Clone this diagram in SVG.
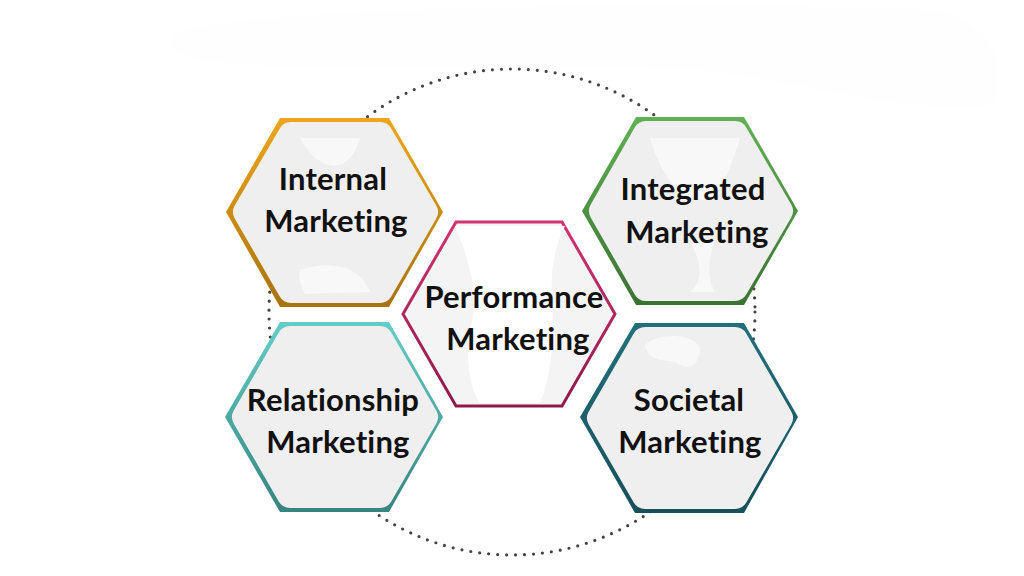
<svg xmlns="http://www.w3.org/2000/svg" width="1024" height="576" viewBox="0 0 1024 576">
<defs>
<linearGradient id="gGold" x1="0" y1="0" x2="0" y2="1"><stop offset="0" stop-color="#eda61c"/><stop offset="1" stop-color="#a8730f"/></linearGradient>
<linearGradient id="gGreen" x1="0" y1="0" x2="0" y2="1"><stop offset="0" stop-color="#62b055"/><stop offset="1" stop-color="#3b7233"/></linearGradient>
<linearGradient id="gTeal" x1="0" y1="0" x2="0" y2="1"><stop offset="0" stop-color="#63cdc7"/><stop offset="1" stop-color="#37857f"/></linearGradient>
<linearGradient id="gDark" x1="0" y1="0" x2="0" y2="1"><stop offset="0" stop-color="#22707c"/><stop offset="1" stop-color="#174f5a"/></linearGradient>
<linearGradient id="gPink" x1="0" y1="0" x2="0" y2="1"><stop offset="0" stop-color="#d2336f"/><stop offset="1" stop-color="#8e1a4b"/></linearGradient>
<style>
.inner{fill:#efefef;stroke:#efefef;stroke-width:26;stroke-linejoin:round}
.blob{fill:#f8f8f8}
.lbl{font-family:Lato,"Noto Sans","Liberation Sans",sans-serif;font-weight:700;font-size:31px;fill:#111;text-anchor:middle;font-variant-ligatures:none;letter-spacing:0.2px}
.ring{fill:none;stroke:#444;stroke-width:3.2;stroke-linecap:round;stroke-dasharray:0 9}
</style>
</defs>
<rect width="1024" height="576" fill="#ffffff"/>
<path d="M180 30 C300 5 700 0 930 10 C1000 20 1010 80 990 105 C900 115 800 80 700 70 C550 60 300 75 200 60 C170 55 165 40 180 30 Z" fill="#fefefe"/>
<g id="connectors">
<circle class="ring" cx="512" cy="312" r="243"/>
</g>
<g id="node-internal">
<polygon points="226,212 280,118 389,118 443,212 389,307 280,307" fill="url(#gGold)"/>
<polygon class="inner" points="246,212 291,135 380,135 425,212 380,290 291,290"/>
<path class="blob" d="M300 138 C320 175 350 175 360 138 Z M300 270 C330 260 360 265 370 292 L305 294 C300 285 298 278 300 270 Z"/>
<text class="lbl" x="333" y="190">Internal</text>
<text class="lbl" x="336" y="232">Marketing</text>
</g>
<g id="node-integrated">
<polygon points="582,211 636,117 744,117 798,211 744,305 636,305" fill="url(#gGreen)"/>
<polygon class="inner" points="602,211 646,134 735,134 780,211 735,288 646,288"/>
<path class="blob" d="M650 138 C665 190 690 200 705 200 C720 200 730 170 740 138 Z M690 240 C700 260 705 280 690 292 L715 292 C705 275 710 255 715 240 Z"/>
<text class="lbl" x="693" y="200">Integrated</text>
<text class="lbl" x="697" y="243">Marketing</text>
</g>
<g id="node-relationship">
<polygon points="225,417 280,322 389,322 443,417 389,512 280,512" fill="url(#gTeal)"/>
<polygon class="inner" points="245,417 290,339 380,339 425,417 380,495 290,495" />
<text class="lbl" x="333" y="411">Relationship</text>
<text class="lbl" x="338" y="453">Marketing</text>
</g>
<g id="node-societal">
<polygon points="580,417 635,323 744,323 798,417 744,513 635,513" fill="url(#gDark)"/>
<polygon class="inner" points="600,418 645,340 735,340 780,418 735,496 645,496"/>
<path class="blob" d="M645 345 C660 330 700 335 700 350 C698 365 690 372 675 362 C660 360 648 360 645 345 Z"/>
<text class="lbl" x="689" y="411">Societal</text>
<text class="lbl" x="690" y="453">Marketing</text>
</g>
<g id="node-performance">
<polygon points="403,314 456,222 562,222 615,314 562,406 456,406" fill="#ffffff" stroke="#ffffff" stroke-width="10"/>
<polygon points="403,314 456,222 562,222 615,314 562,406 456,406" fill="#f4f4f4" stroke="url(#gPink)" stroke-width="3"/>
<path d="M455 226 C470 260 480 300 470 330 C465 360 470 390 480 403 L540 403 C550 380 555 340 552 300 C550 270 555 245 565 226 Z" fill="#ffffff"/>
<text class="lbl" x="514" y="308">Performance</text>
<text class="lbl" x="518" y="350">Marketing</text>
</g>
</svg>
